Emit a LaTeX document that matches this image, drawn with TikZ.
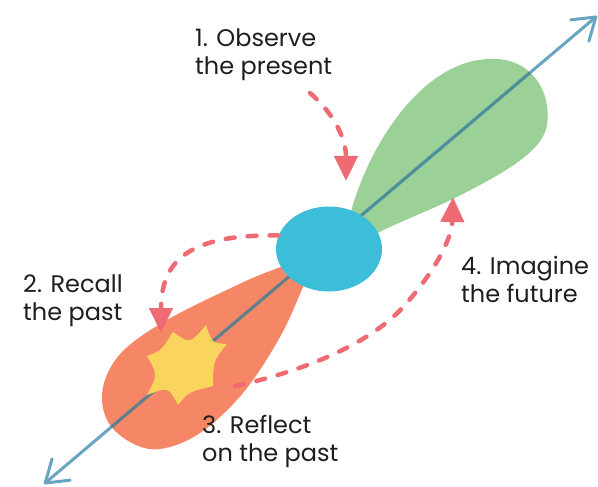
\documentclass[tikz,border=0pt]{standalone}
\usepackage{fontspec}
\setmainfont{Poppins}
\usetikzlibrary{arrows.meta,shapes.geometric}
\definecolor{cgreen}{HTML}{9BD096}
\definecolor{corange}{HTML}{F58766}
\definecolor{cblob}{HTML}{3DBED8}
\definecolor{cyellow}{HTML}{F9D55E}
\definecolor{cred}{HTML}{EF6B73}
\definecolor{caxis}{HTML}{67A5C0}
\definecolor{caxisO}{HTML}{647D86}
\definecolor{caxisG}{HTML}{4E8F98}
\definecolor{ctext}{HTML}{1E1E1E}
\def\orangepath{plot[smooth cycle, tension=0.6] coordinates {(300,262) (270,271) (233,287) (167,320) (122,352) (103,387) (107,420) (130,442) (160,449) (200,433) (243,393) (280,337) (303,287) (310,270)}}
\def\greenpath{(350,215) .. controls (370,140) and (425,60) .. (490,59) .. controls (530,57) and (552,90) .. (547,125) .. controls (543,150) and (510,170) .. (457,197) .. controls (420,215) and (390,225) .. (365,240) -- cycle}
\begin{document}
\begin{tikzpicture}[x=1pt,y=-1pt,
  axisline/.style={draw=caxis,line width=3pt,line cap=round},
  axisover/.style={line width=3pt,line cap=round},
  dasharrow/.style={draw=cred,line width=4.5pt,line cap=round,dash pattern=on 9pt off 13pt,-{Triangle[length=25pt,width=23pt]}},
  lbl/.style={anchor=base west,inner sep=0pt,font=\fontsize{24}{28}\selectfont,text=ctext}]
\useasboundingbox (0,0) rectangle (598,487);
% lobes
\fill[corange] \orangepath;
\fill[cgreen] \greenpath;
% axis
\coordinate (axA) at (44,484);
\coordinate (axB) at (597,16);
\draw[axisline,{Straight Barb[length=21pt,width=28pt,line cap=round,line join=round]}-{Straight Barb[length=21pt,width=28pt,line cap=round,line join=round]}] (axA) -- (axB);
\begin{scope}
\clip \orangepath;
\draw[axisover,draw=caxisO] (axA) -- (axB);
\end{scope}
\begin{scope}
\clip \greenpath;
\draw[axisover,draw=caxisG] (axA) -- (axB);
\end{scope}
% present blob
\node[ellipse,fill=cblob,minimum width=106pt,minimum height=85pt,inner sep=0pt] (blob) at (329,249) {};
% star
\fill[cyellow] (147,356) .. controls (161.3,350.7) .. (173,332) .. controls (190.1,343.9) .. (206,325) .. controls (211.9,343.2) .. (227,344) .. controls (213.3,361) .. (213,386) .. controls (188.2,392.2) .. (178,405) .. controls (168.5,386.7) .. (147,395) .. controls (157.7,374.8) .. (147,356) -- cycle;
% dashed arrows
\coordinate (s1) at (310,93);
\coordinate (e1) at (346,181);
\draw[dasharrow] (s1) .. controls (330,110) and (346,135) .. (e1);
\coordinate (e2) at (161,333);
\draw[dasharrow] (blob.165) .. controls (190,234) and (161,260) .. (e2);
\coordinate (s3) at (235,386);
\coordinate (m3) at (405,305);
\coordinate (e3) at (453,197);
\draw[dasharrow] (s3) .. controls (300,372) and (370,345) .. (m3) .. controls (440,265) and (452,235) .. (e3);
% labels
\node[lbl] (l1a) at (195,47) {1. Observe};
\node[lbl] (l1b) at (195,75) {the present};
\node[lbl] (l2a) at (23,292) {2. Recall};
\node[lbl] (l2b) at (23,320) {the past};
\node[lbl] (l3a) at (202,433) {3. Reflect};
\node[lbl] (l3b) at (202,461) {on the past};
\node[lbl] (l4a) at (461,274) {4. Imagine};
\node[lbl] (l4b) at (461,302) {the future};
\end{tikzpicture}
\end{document}
